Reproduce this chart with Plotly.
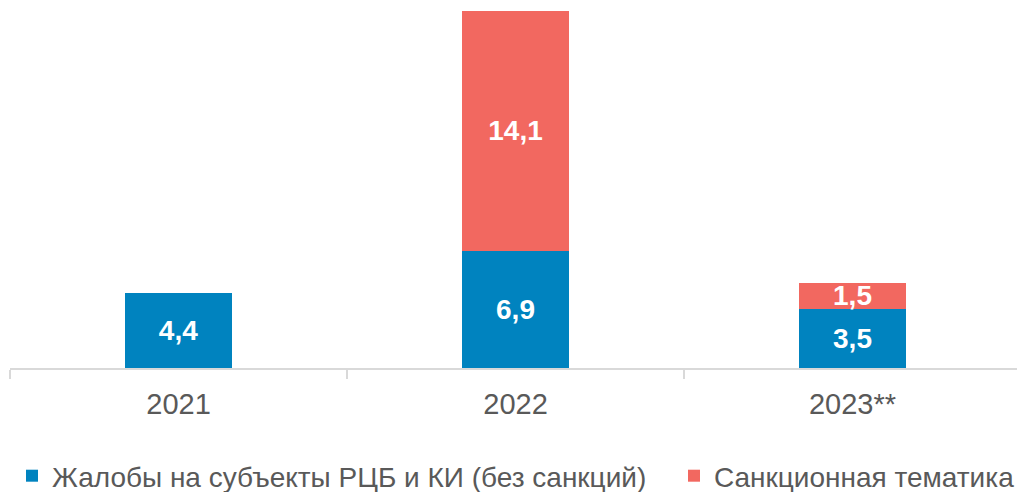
import plotly.graph_objects as go

categories = ["2021", "2022", "2023**"]
complaints = [4.4, 6.9, 3.5]
sanctions = [None, 14.1, 1.5]
series_names = ["Жалобы на субъекты РЦБ и КИ (без санкций)", "Санкционная тематика"]

BLUE = "#0083BF"
RED = "#F26860"
GRAY = "#595959"
LABEL_FONT = dict(family="Liberation Sans", size=28, color="white", weight="bold")

fig = go.Figure()
fig.add_trace(go.Bar(
    x=categories, y=complaints, name=series_names[0],
    marker=dict(color=BLUE, line=dict(width=0)),
    texttemplate="%{y:.1f}", textposition="inside", insidetextanchor="middle",
    constraintext="none", textangle=0,
    textfont=LABEL_FONT, cliponaxis=False, legend="legend",
))
fig.add_trace(go.Bar(
    x=categories, y=sanctions, name=series_names[1],
    marker=dict(color=RED, line=dict(width=0)),
    texttemplate="%{y:.1f}", textposition="inside", insidetextanchor="middle",
    constraintext="none", textangle=0,
    textfont=LABEL_FONT, cliponaxis=False, legend="legend2",
))

W, H = 1021, 492

legend_common = dict(
    orientation="h", xref="container", yref="container",
    xanchor="left", yanchor="middle", y=1 - 476 / H,
    font=dict(family="Liberation Sans", size=28, color=GRAY),
    itemwidth=30, bgcolor="rgba(0,0,0,0)", borderwidth=0,
)

fig.update_layout(
    barmode="stack",
    bargap=0.685,
    separators=", ",
    width=W, height=H,
    margin=dict(l=10, r=0, t=0, b=124, autoexpand=False),
    plot_bgcolor="white", paper_bgcolor="white",
    showlegend=True,
    legend=dict(legend_common, x=12 / W),
    legend2=dict(legend_common, x=674 / W),
    font=dict(family="Liberation Sans", color=GRAY),
)
fig.update_xaxes(
    type="category",
    showline=True, linecolor="#D9D9D9", linewidth=1.5,
    ticks="outside", tickson="boundaries", ticklen=9, tickcolor="#D9D9D9", tickwidth=1.5,
    tickfont=dict(family="Liberation Sans", size=29, color=GRAY),
    ticklabelstandoff=9,
    showgrid=False,
)
fig.update_yaxes(range=[0, 368 / 17], visible=False, showgrid=False, zeroline=False)

fig.write_html(
    "out.html",
    config={"displayModeBar": False},
    post_script="document.body.style.margin='0';document.body.style.padding='0';"
                "document.body.style.overflow='hidden';document.documentElement.style.overflow='hidden';",
)
